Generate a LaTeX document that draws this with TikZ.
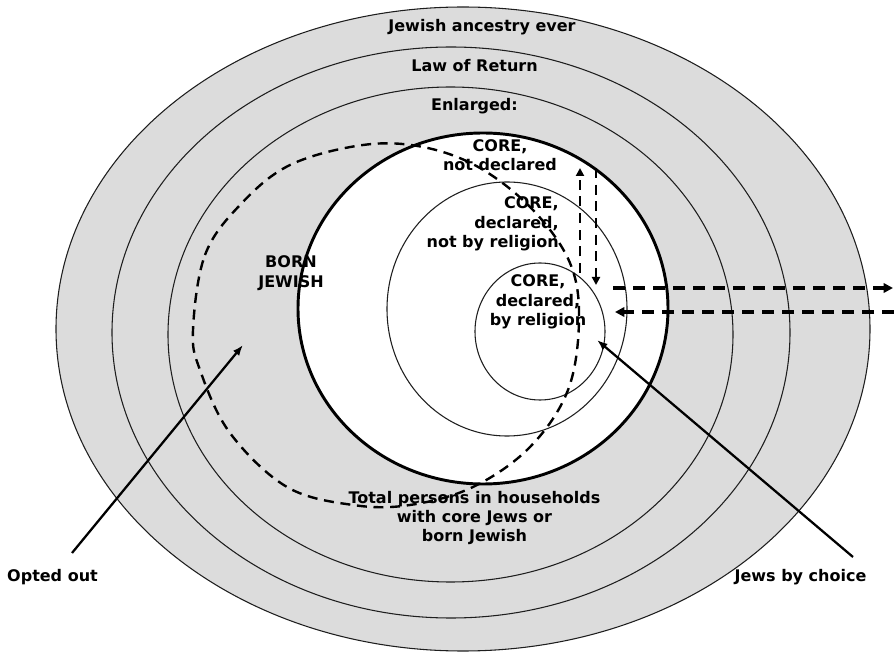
\documentclass[tikz,border=0pt]{standalone}
\usepackage{fontspec}
\setmainfont{DejaVu Sans}
\definecolor{ringGray}{RGB}{220,220,220}
\definecolor{lineDark}{RGB}{30,30,30}
\usepackage{tikz}
\usetikzlibrary{arrows.meta,positioning,calc}
\tikzset{
  ring/.style={draw=lineDark, line width=0.8pt},
  lbl/.style={font=\bfseries\fontsize{12}{14.6}\selectfont, align=center, inner sep=0pt},
  bornline/.style={line width=1.8pt, dash pattern=on 7.5pt off 5pt},
  flowline/.style={line width=1.7pt, dash pattern=on 7.5pt off 5pt, -{Triangle[length=6pt,width=6pt]}},
  sideline/.style={line width=2.6pt, dash pattern=on 9pt off 6pt, -{Triangle[length=7pt,width=7pt]}},
  pointer/.style={line width=1.7pt, -{Latex[length=8pt,width=6pt]}}
}

\begin{document}
\begin{tikzpicture}[x=0.75pt, y=-0.75pt]
  \useasboundingbox (0,0) rectangle (894,652);

  % nested rings
  \draw[ring, fill=ringGray] (463,329) ellipse [x radius=407, y radius=322];
  \draw[ring] (451,332.5) ellipse [x radius=339, y radius=285.5];
  \draw[ring] (450.5,334.5) ellipse [x radius=282.5, y radius=247.5];
  \draw[line width=2.2pt, fill=white] (483,308.5) ellipse [x radius=185, y radius=175.5];
  \draw[ring] (507,309) ellipse [x radius=120, y radius=127];
  \draw[ring] (540,331.5) ellipse [x radius=65, y radius=68.5];

  % born Jewish boundary
  \draw[bornline] plot[smooth cycle, tension=0.6] coordinates {
    (193,330) (205,255) (240,205) (290,165) (363,145) (423,147) (480,168)
    (533,210) (570,263) (579,320) (568,390) (530,447) (473,487) (410,505)
    (353,505) (287,487) (230,433) (200,370)};

  % labels
  \node[lbl] (ancestry) at (482,27) {Jewish ancestry ever};
  \node[lbl] (lawreturn) at (474.5,66) {Law of Return};
  \node[lbl] (enlarged) at (474.5,106) {Enlarged:};
  \node[lbl] (notdecl) at (500,155) {CORE,\\not declared};
  \node[lbl, align=right, anchor=east] (notrelig) at (559,224) {CORE,\\declared,\\not by religion};
  \node[lbl] (byrelig) at (538,302) {CORE,\\declared,\\by religion};
  \node[lbl] (born) at (291,273) {BORN\\JEWISH};
  \node[lbl] (total) at (474.5,518) {Total persons in households\\with core Jews or\\born Jewish};
  \node[lbl] (optout) at (52.5,577) {Opted out};
  \node[lbl] (bychoice) at (800.5,577) {Jews by choice};

  % flows between core groups
  \coordinate (upBot) at (580,273);
  \coordinate (upTop) at (580,168);
  \coordinate (dnTop) at (596,168);
  \coordinate (dnBot) at (596,285);
  \coordinate (outL) at (613,288);
  \coordinate (outR) at (893,288);
  \coordinate (inR) at (894,312);
  \coordinate (inL) at (615,312);
  \draw[flowline] (upBot) -- (upTop);
  \draw[flowline] (dnTop) -- (dnBot);
  \draw[sideline] (outL) -- (outR);
  \draw[sideline] (inR) -- (inL);

  % pointers from the side labels
  \coordinate (optTail) at (72,553);
  \coordinate (optHead) at (243,345);
  \coordinate (choiceTail) at (853,557);
  \coordinate (choiceHead) at (597,340);
  \draw[pointer] (optTail) -- (optHead);
  \draw[pointer] (choiceTail) -- (choiceHead);
\end{tikzpicture}
\end{document}
